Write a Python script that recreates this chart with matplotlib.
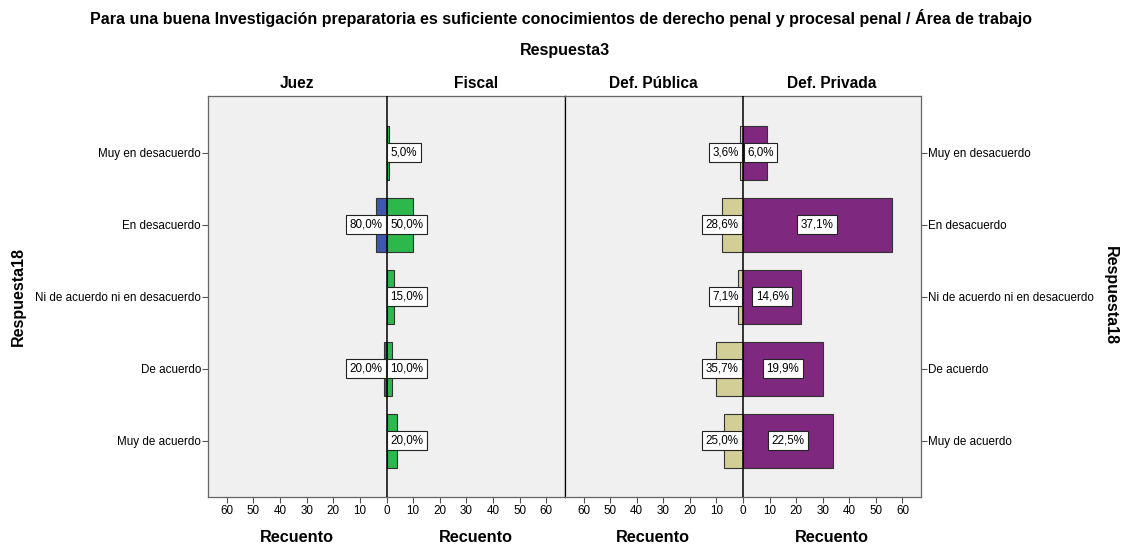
import matplotlib
matplotlib.use("Agg")
import matplotlib.pyplot as plt
import numpy as np

plt.rcParams['font.family'] = ['Liberation Sans', 'DejaVu Sans']

categories = ["Muy en desacuerdo", "En desacuerdo", "Ni de acuerdo ni en desacuerdo",
              "De acuerdo", "Muy de acuerdo"]
juez_counts = [0, 4, 0, 1, 0]
juez_pct = [None, "80,0%", None, "20,0%", None]
fiscal_counts = [1, 10, 3, 2, 4]
fiscal_pct = ["5,0%", "50,0%", "15,0%", "10,0%", "20,0%"]
defpub_counts = [1, 8, 2, 10, 7]
defpub_pct = ["3,6%", "28,6%", "7,1%", "35,7%", "25,0%"]
defpriv_counts = [9, 56, 22, 30, 34]
defpriv_pct = ["6,0%", "37,1%", "14,6%", "19,9%", "22,5%"]

group_names = ["Juez", "Fiscal", "Def. Pública", "Def. Privada"]
title = "Para una buena Investigación preparatoria es suficiente conocimientos de derecho penal y procesal penal / Área de trabajo"
xticks = [-60, -50, -40, -30, -20, -10, 0, 10, 20, 30, 40, 50, 60]

col_juez = "#3e58ac"
col_fiscal = "#2db84b"
col_pub = "#d3ce96"
col_priv = "#7e287f"
bg = "#f0f0f0"

W, H = 1122, 546
fig = plt.figure(figsize=(W / 100, H / 100), dpi=100)

def fx(px):
    return px / W

def fy(py):
    return 1 - py / H

top, bottom = 96, 497
axL = fig.add_axes([fx(208), fy(bottom), fx(565 - 208), (bottom - top) / H])
axR = fig.add_axes([fx(565), fy(bottom), fx(921 - 565), (bottom - top) / H])

ypos = np.arange(len(categories))
bar_h = 0.75
label_fs = 8.4
tick_fs = 8.4

def draw_label(ax, x_side, count, text, y):
    if text is None:
        return
    bb = dict(boxstyle="square,pad=0.3", fc="white", ec="#222222", lw=0.8)
    if count > 16:
        ax.text(x_side * count / 2, y, text, ha="center", va="center",
                fontsize=label_fs, bbox=bb, zorder=5)
    else:
        ax.annotate(text, xy=(0, y), xytext=(3.0 * x_side, 0), textcoords="offset points",
                    ha="left" if x_side > 0 else "right", va="center",
                    fontsize=label_fs, bbox=bb, zorder=5)

def draw_panel(ax, left_counts, left_pct, left_col, right_counts, right_pct, right_col):
    ax.set_facecolor(bg)
    ax.barh(ypos, [-c for c in left_counts], height=bar_h, color=left_col,
            edgecolor="#333333", linewidth=0.8, zorder=3)
    ax.barh(ypos, right_counts, height=bar_h, color=right_col,
            edgecolor="#333333", linewidth=0.8, zorder=3)
    ax.axvline(0, color="black", lw=1.1, zorder=4)
    for i in range(len(categories)):
        draw_label(ax, -1, left_counts[i], left_pct[i], ypos[i])
        draw_label(ax, 1, right_counts[i], right_pct[i], ypos[i])
    ax.set_xlim(-67, 67)
    ax.set_ylim(4.78, -0.79)
    ax.set_xticks(xticks)
    ax.set_xticklabels([str(abs(t)) for t in xticks], fontsize=tick_fs)
    ax.set_yticks(ypos)
    ax.tick_params(axis="x", length=4, width=0.8, color="#555555", pad=2)
    for s in ax.spines.values():
        s.set_color("#666666")
        s.set_linewidth(0.9)

draw_panel(axL, juez_counts, juez_pct, col_juez, fiscal_counts, fiscal_pct, col_fiscal)
draw_panel(axR, defpub_counts, defpub_pct, col_pub, defpriv_counts, defpriv_pct, col_priv)

axL.set_yticklabels(categories, fontsize=tick_fs)
axL.tick_params(axis="y", length=4, width=0.8, color="#555555", pad=1)
axL.spines["right"].set_color("black")
axR.spines["left"].set_color("black")
axR.yaxis.tick_right()
axR.set_yticklabels(categories, fontsize=tick_fs)
axR.tick_params(axis="y", length=4, width=0.8, color="#555555", pad=1)

# Texts
fig.text(fx(561), fy(18), title, ha="center", va="center", fontsize=11.5, fontweight="bold")
fig.text(fx(565), fy(50), "Respuesta3", ha="center", va="center", fontsize=11.5, fontweight="bold")
for name, xc in zip(group_names, [297, 476, 653, 832]):
    fig.text(fx(xc), fy(83), name, ha="center", va="center", fontsize=11.2, fontweight="bold")
for xc in [297, 476, 653, 832]:
    fig.text(fx(xc), fy(537), "Recuento", ha="center", va="center", fontsize=11.7, fontweight="bold")
fig.text(fx(18), fy(296), "Respuesta18", ha="center", va="center", rotation=90,
         fontsize=11.5, fontweight="bold")
fig.text(fx(1110), fy(296), "Respuesta18", ha="center", va="center", rotation=-90,
         fontsize=11.5, fontweight="bold")

fig.savefig("out.png", dpi=100, facecolor="white")
